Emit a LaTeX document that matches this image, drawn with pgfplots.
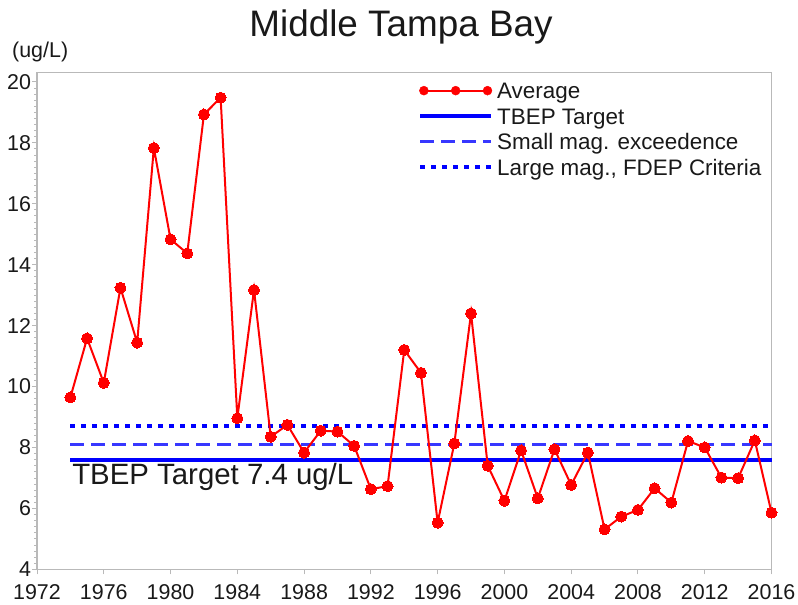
\documentclass[border=0pt]{standalone}
\usepackage{fontspec}
\setmainfont{Liberation Sans}
\usepackage{pgfplots}
\usepackage{pgfplotstable}
\pgfplotsset{compat=1.18}
\definecolor{framegray}{RGB}{185,185,185}
\definecolor{txt}{RGB}{25,25,25}
\definecolor{dashblue}{RGB}{55,55,255}
\definecolor{avgred}{RGB}{255,0,0}
\pgfplotstableread{
year value
1974 9.64
1975 11.58
1976 10.12
1977 13.24
1978 11.44
1979 17.83
1980 14.83
1981 14.37
1982 18.93
1983 19.48
1984 8.96
1985 13.17
1986 8.35
1987 8.74
1988 7.83
1989 8.55
1990 8.52
1991 8.05
1992 6.63
1993 6.73
1994 11.20
1995 10.45
1996 5.53
1997 8.13
1998 12.40
1999 7.40
2000 6.25
2001 7.90
2002 6.33
2003 7.94
2004 6.77
2005 7.83
2006 5.31
2007 5.73
2008 5.95
2009 6.66
2010 6.19
2011 8.21
2012 8.00
2013 7.01
2014 6.99
2015 8.23
2016 5.86
}\avgdata
\begin{document}
\begin{tikzpicture}
\useasboundingbox (0,0) rectangle (798bp,605bp);
\node[anchor=base, font=\fontsize{37}{42}\selectfont, text=txt] at (401bp,568.3bp) {Middle Tampa Bay};
\node[anchor=base west, font=\fontsize{21.5}{24}\selectfont, text=txt, inner sep=0pt] at (12bp,547bp) {(ug/L)};
\begin{axis}[
  at={(37bp,35.7bp)}, anchor=south west,
  scale only axis, width=734.5bp, height=496.6bp,
  xmin=1972, xmax=2016, ymin=4, ymax=20.3,
  xtick={1972,1976,...,2016}, minor x tick num=3,
  ytick={4,6,...,20}, minor y tick num=9,
  xtick pos=left, ytick pos=left,
  tick align=outside, major tick length=5bp, minor tick length=3bp,
  axis line style={framegray, line width=1.3bp},
  tick style={framegray, line width=1bp},
  minor tick style={framegray, line width=0.8bp},
  tick label style={font=\fontsize{21.5}{24}\selectfont, text=txt},
  xticklabel style={inner ysep=1bp, yshift=-9bp},
  yticklabel style={xshift=2.5bp},
  /pgf/number format/assume math mode=true,
  /pgf/number format/1000 sep={},
  clip=false,
  legend cell align=left,
  legend style={at={(0.5187,1)}, anchor=north west, yshift=-5bp,
    draw=none, fill=none, font=\fontsize{22.5}{26}\selectfont, text=txt,
    row sep=0pt, inner sep=0pt,
    nodes={inner ysep=0pt, inner xsep=4bp, text height=20.75bp, text depth=4.75bp}},
]
\addlegendimage{legend image code/.code={
  \draw[avgred, line width=2bp] (0bp,0bp) -- (71bp,0bp);
  \fill[avgred] (3.7bp,0bp) circle (4.5bp);
  \fill[avgred] (35.5bp,0bp) circle (4.5bp);
  \fill[avgred] (67.3bp,0bp) circle (4.5bp);}}
\addlegendentry{Average}
\addplot[blue, line width=4bp, line cap=butt,
  legend image code/.code={\draw[blue, line width=4bp] (0bp,0bp) -- (71bp,0bp);}]
  coordinates {(1974,7.6) (2016,7.6)};
\addlegendentry{TBEP Target}
\addplot[dashblue, line width=2.7bp, dash pattern=on 14bp off 7bp,
  legend image code/.code={\draw[dashblue, line width=2.7bp, dash pattern=on 14bp off 7bp] (0bp,0bp) -- (71bp,0bp);}]
  coordinates {(1974,8.1) (2016,8.1)};
\addlegendentry{Small mag. exceedence}
\addplot[blue, line width=3.5bp, dash pattern=on 4.5bp off 6.5bp,
  legend image code/.code={\draw[blue, line width=3.5bp, dash pattern=on 4.5bp off 6.5bp] (0bp,0bp) -- (71bp,0bp);}]
  coordinates {(1974,8.7) (2016,8.7)};
\addlegendentry{Large mag., FDEP Criteria}
\addplot[avgred, line width=2bp, mark=*, mark size=5.5bp,
  mark options={fill=avgred, draw=avgred, line width=0pt}, forget plot]
  table[x=year, y=value] {\avgdata};
\node[anchor=base west, font=\fontsize{29.5}{33}\selectfont, text=txt, inner sep=0pt]
  at (axis cs:1974.1,6.77) {TBEP Target 7.4 ug/L};
\end{axis}
\end{tikzpicture}
\end{document}
